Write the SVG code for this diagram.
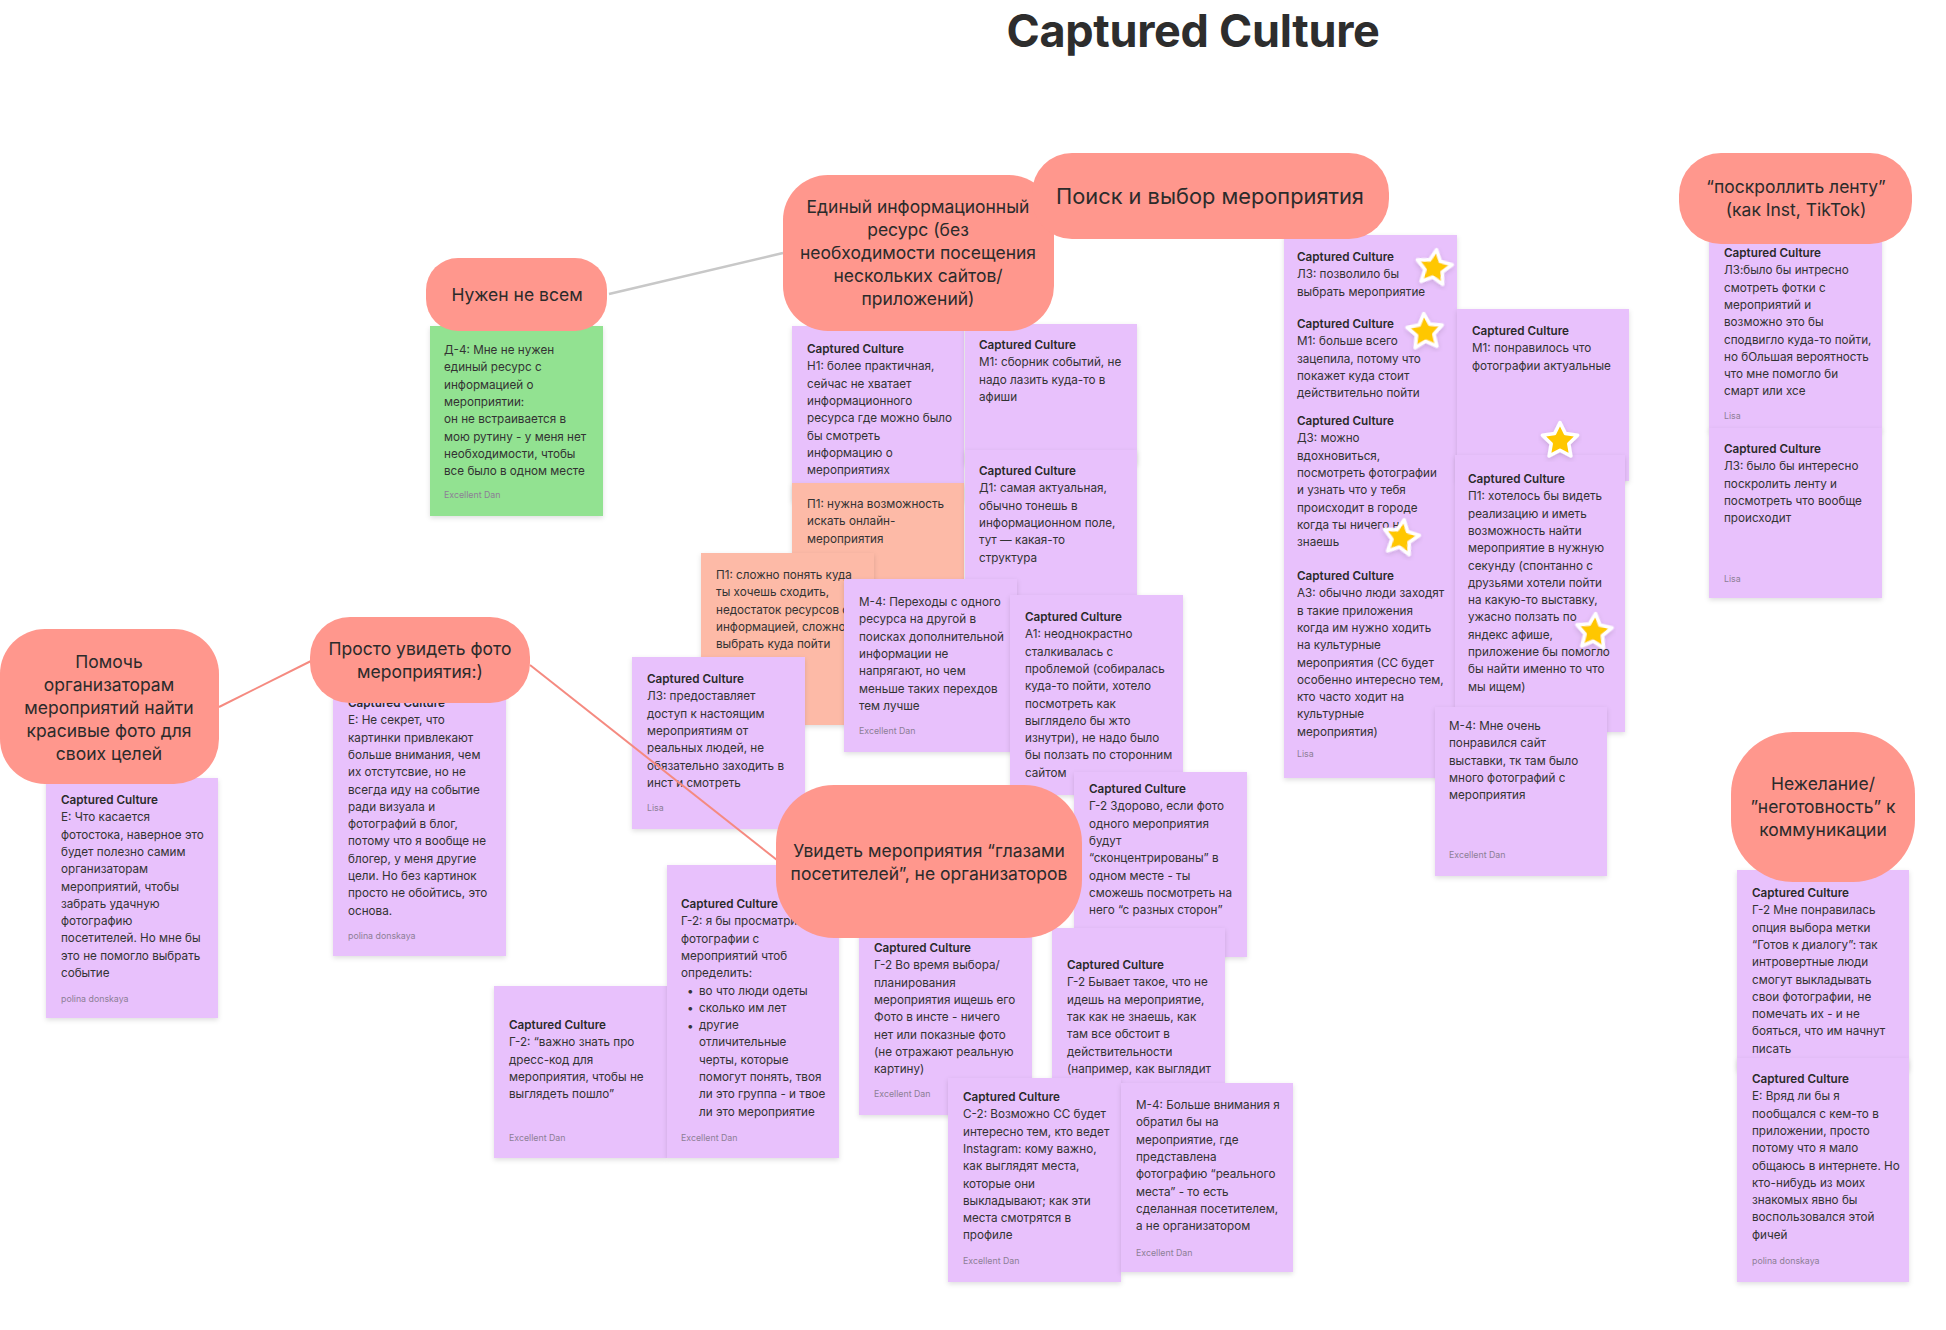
<svg xmlns="http://www.w3.org/2000/svg" width="1946" height="1330" viewBox="0 0 1946 1330">
<defs>
<filter id="sh" x="-10%" y="-10%" width="120%" height="125%"><feDropShadow dx="0" dy="2" stdDeviation="2.5" flood-color="#000" flood-opacity="0.13"/></filter>
<path id="star" d="M0,-18.5 L5.4,-7.45 L17.6,-5.7 L8.8,2.85 L10.9,15 L0,9.2 L-10.9,15 L-8.8,2.85 L-17.6,-5.7 L-5.4,-7.45 Z"/>
</defs>
<style>
.st{fill:#E8C1FC;filter:url(#sh)}
.or{fill:#FDBAA7;filter:url(#sh)}
.gr{fill:#92E291;filter:url(#sh)}
.pill{fill:#FF978D}
text{font-family:Inter,"Noto Sans","Liberation Sans",sans-serif}
.t{font-size:11.7px;fill:#333}
.h{font-weight:600;fill:#2a2a2a}
.a{font-size:8.8px;fill:#8d7f96}
.pt{font-size:17.5px;fill:#2b2b2b;text-anchor:middle}
.star{fill:#FFC700;stroke:#fff;stroke-width:3.5;stroke-linejoin:round;filter:url(#sh)}
.title{font-size:45px;font-weight:700;fill:#2d2d2d;text-anchor:middle;letter-spacing:-0.3px}
</style>
<rect x="0" y="0" width="1946" height="1330" fill="#fff"/>
<text class="title" x="1193" y="47">Captured Culture</text>

<g id="s-d4"><rect class="gr" x="430" y="326" width="173" height="190"/>
<text class="t" x="444" y="354"><tspan x="444">Д-4: Мне не нужен</tspan><tspan x="444" dy="17.3">единый ресурс с</tspan><tspan x="444" dy="17.3">информацией о</tspan><tspan x="444" dy="17.3">мероприятии:</tspan><tspan x="444" dy="17.3">он не встраивается в</tspan><tspan x="444" dy="17.3">мою рутину - у меня нет</tspan><tspan x="444" dy="17.3">необходимости, чтобы</tspan><tspan x="444" dy="17.3">все было в одном месте</tspan></text>
<text class="a" x="444" y="498">Excellent Dan</text></g>

<g id="s-h1"><rect class="st" x="792" y="326" width="172" height="175"/>
<text class="t" x="807" y="353"><tspan class="h" x="807">Captured Culture</tspan><tspan x="807" dy="17.3">Н1: более практичная,</tspan><tspan x="807" dy="17.3">сейчас не хватает</tspan><tspan x="807" dy="17.3">информационного</tspan><tspan x="807" dy="17.3">ресурса где можно было</tspan><tspan x="807" dy="17.3">бы смотреть</tspan><tspan x="807" dy="17.3">информацию о</tspan><tspan x="807" dy="17.3">мероприятиях</tspan></text></g>

<g id="s-p1a"><rect class="or" x="792" y="483" width="172" height="170"/>
<text class="t" x="807" y="508"><tspan x="807">П1: нужна возможность</tspan><tspan x="807" dy="17.3">искать онлайн-</tspan><tspan x="807" dy="17.3">мероприятия</tspan></text></g>

<g id="s-p1b"><rect class="or" x="701" y="553" width="173" height="172"/>
<text class="t" x="716" y="579"><tspan x="716">П1: сложно понять куда</tspan><tspan x="716" dy="17.3">ты хочешь сходить,</tspan><tspan x="716" dy="17.3">недостаток ресурсов с</tspan><tspan x="716" dy="17.3">информацией, сложно</tspan><tspan x="716" dy="17.3">выбрать куда пойти</tspan></text></g>

<g id="s-l3a"><rect class="st" x="632" y="657" width="173" height="172"/>
<text class="t" x="647" y="683"><tspan class="h" x="647">Captured Culture</tspan><tspan x="647" dy="17.3">Л3: предоставляет</tspan><tspan x="647" dy="17.3">доступ к настоящим</tspan><tspan x="647" dy="17.3">мероприятиям от</tspan><tspan x="647" dy="17.3">реальных людей, не</tspan><tspan x="647" dy="17.3">обязательно заходить в</tspan><tspan x="647" dy="17.3">инст и смотреть</tspan></text>
<text class="a" x="647" y="811">Lisa</text></g>

<g id="s-m1a"><rect class="st" x="965" y="324" width="172" height="140"/>
<text class="t" x="979" y="349"><tspan class="h" x="979">Captured Culture</tspan><tspan x="979" dy="17.3">М1: сборник событий, не</tspan><tspan x="979" dy="17.3">надо лазить куда-то в</tspan><tspan x="979" dy="17.3">афиши</tspan></text></g>

<g id="s-d1"><rect class="st" x="965" y="450" width="172" height="170"/>
<text class="t" x="979" y="475"><tspan class="h" x="979">Captured Culture</tspan><tspan x="979" dy="17.3">Д1: самая актуальная,</tspan><tspan x="979" dy="17.3">обычно тонешь в</tspan><tspan x="979" dy="17.3">информационном поле,</tspan><tspan x="979" dy="17.3">тут — какая-то</tspan><tspan x="979" dy="17.3">структура</tspan></text></g>

<g id="s-m4a"><rect class="st" x="844" y="579" width="173" height="173"/>
<text class="t" x="859" y="606"><tspan x="859">М-4: Переходы с одного</tspan><tspan x="859" dy="17.3">ресурса на другой в</tspan><tspan x="859" dy="17.3">поисках дополнительной</tspan><tspan x="859" dy="17.3">информации не</tspan><tspan x="859" dy="17.3">напрягают, но чем</tspan><tspan x="859" dy="17.3">меньше таких перехдов</tspan><tspan x="859" dy="17.3">тем лучше</tspan></text>
<text class="a" x="859" y="734">Excellent Dan</text></g>

<g id="s-a1"><rect class="st" x="1010" y="595" width="173" height="200"/>
<text class="t" x="1025" y="621"><tspan class="h" x="1025">Captured Culture</tspan><tspan x="1025" dy="17.3">А1: неоднокрастно</tspan><tspan x="1025" dy="17.3">сталкивалась с</tspan><tspan x="1025" dy="17.3">проблемой (собиралась</tspan><tspan x="1025" dy="17.3">куда-то пойти, хотело</tspan><tspan x="1025" dy="17.3">посмотреть как</tspan><tspan x="1025" dy="17.3">выглядело бы жто</tspan><tspan x="1025" dy="17.3">изнутри), не надо было</tspan><tspan x="1025" dy="17.3">бы ползать по сторонним</tspan><tspan x="1025" dy="17.3">сайтом</tspan></text></g>

<g id="s-g2a"><rect class="st" x="1074" y="772" width="173" height="185"/>
<text class="t" x="1089" y="793"><tspan class="h" x="1089">Captured Culture</tspan><tspan x="1089" dy="17.3">Г-2 Здорово, если фото</tspan><tspan x="1089" dy="17.3">одного мероприятия</tspan><tspan x="1089" dy="17.3">будут</tspan><tspan x="1089" dy="17.3">“сконцентрированы” в</tspan><tspan x="1089" dy="17.3">одном месте - ты</tspan><tspan x="1089" dy="17.3">сможешь посмотреть на</tspan><tspan x="1089" dy="17.3">него “с разных сторон”</tspan></text></g>

<g id="s-g2b"><rect class="st" x="494" y="986" width="173" height="172"/>
<text class="t" x="509" y="1029"><tspan class="h" x="509">Captured Culture</tspan><tspan x="509" dy="17.3">Г-2: “важно знать про</tspan><tspan x="509" dy="17.3">дресс-код для</tspan><tspan x="509" dy="17.3">мероприятия, чтобы не</tspan><tspan x="509" dy="17.3">выглядеть пошло”</tspan></text>
<text class="a" x="509" y="1141">Excellent Dan</text></g>

<g id="s-g2c"><rect class="st" x="667" y="865" width="172" height="293"/>
<text class="t" x="681" y="908"><tspan class="h" x="681">Captured Culture</tspan><tspan x="681" dy="17.3">Г-2: я бы просматривал</tspan><tspan x="681" dy="17.3">фотографии с</tspan><tspan x="681" dy="17.3">мероприятий чтоб</tspan><tspan x="681" dy="17.3">определить:</tspan><tspan x="699" dy="17.3">во что люди одеты</tspan><tspan x="699" dy="17.3">сколько им лет</tspan><tspan x="699" dy="17.3">другие</tspan><tspan x="699" dy="17.3">отличительные</tspan><tspan x="699" dy="17.3">черты, которые</tspan><tspan x="699" dy="17.3">помогут понять, твоя</tspan><tspan x="699" dy="17.3">ли это группа - и твое</tspan><tspan x="699" dy="17.3">ли это мероприятие</tspan></text>
<text class="t" x="687" y="995"><tspan x="687">•</tspan><tspan x="687" dy="17.3">•</tspan><tspan x="687" dy="17.3">•</tspan></text>
<text class="a" x="681" y="1141">Excellent Dan</text></g>

<g id="s-g2d"><rect class="st" x="859" y="925" width="173" height="190"/>
<text class="t" x="874" y="952"><tspan class="h" x="874">Captured Culture</tspan><tspan x="874" dy="17.3">Г-2 Во время выбора/</tspan><tspan x="874" dy="17.3">планирования</tspan><tspan x="874" dy="17.3">мероприятия ищешь его</tspan><tspan x="874" dy="17.3">Фото в инсте - ничего</tspan><tspan x="874" dy="17.3">нет или показные фото</tspan><tspan x="874" dy="17.3">(не отражают реальную</tspan><tspan x="874" dy="17.3">картину)</tspan></text>
<text class="a" x="874" y="1097">Excellent Dan</text></g>

<g id="s-g2e"><rect class="st" x="1052" y="928" width="173" height="220"/>
<text class="t" x="1067" y="969"><tspan class="h" x="1067">Captured Culture</tspan><tspan x="1067" dy="17.3">Г-2 Бывает такое, что не</tspan><tspan x="1067" dy="17.3">идешь на мероприятие,</tspan><tspan x="1067" dy="17.3">так как не знаешь, как</tspan><tspan x="1067" dy="17.3">там все обстоит в</tspan><tspan x="1067" dy="17.3">действительности</tspan><tspan x="1067" dy="17.3">(например, как выглядит</tspan></text></g>

<g id="s-c2"><rect class="st" x="948" y="1078" width="173" height="204"/>
<text class="t" x="963" y="1101"><tspan class="h" x="963">Captured Culture</tspan><tspan x="963" dy="17.3">С-2: Возможно СС будет</tspan><tspan x="963" dy="17.3">интересно тем, кто ведет</tspan><tspan x="963" dy="17.3">Instagram: кому важно,</tspan><tspan x="963" dy="17.3">как выглядят места,</tspan><tspan x="963" dy="17.3">которые они</tspan><tspan x="963" dy="17.3">выкладывают; как эти</tspan><tspan x="963" dy="17.3">места смотрятся в</tspan><tspan x="963" dy="17.3">профиле</tspan></text>
<text class="a" x="963" y="1264">Excellent Dan</text></g>

<g id="s-m4b"><rect class="st" x="1121" y="1083" width="172" height="189"/>
<text class="t" x="1136" y="1109"><tspan x="1136">М-4: Больше внимания я</tspan><tspan x="1136" dy="17.3">обратил бы на</tspan><tspan x="1136" dy="17.3">мероприятие, где</tspan><tspan x="1136" dy="17.3">представлена</tspan><tspan x="1136" dy="17.3">фотографию “реального</tspan><tspan x="1136" dy="17.3">места” - то есть</tspan><tspan x="1136" dy="17.3">сделанная посетителем,</tspan><tspan x="1136" dy="17.3">а не организатором</tspan></text>
<text class="a" x="1136" y="1256">Excellent Dan</text></g>

<g id="s-e1"><rect class="st" x="46" y="778" width="172" height="240"/>
<text class="t" x="61" y="804"><tspan class="h" x="61">Captured Culture</tspan><tspan x="61" dy="17.3">Е: Что касается</tspan><tspan x="61" dy="17.3">фотостока, наверное это</tspan><tspan x="61" dy="17.3">будет полезно самим</tspan><tspan x="61" dy="17.3">организаторам</tspan><tspan x="61" dy="17.3">мероприятий, чтобы</tspan><tspan x="61" dy="17.3">забрать удачную</tspan><tspan x="61" dy="17.3">фотографию</tspan><tspan x="61" dy="17.3">посетителей. Но мне бы</tspan><tspan x="61" dy="17.3">это не помогло выбрать</tspan><tspan x="61" dy="17.3">событие</tspan></text>
<text class="a" x="61" y="1002">polina donskaya</text></g>

<g id="s-e2"><rect class="st" x="333" y="695" width="173" height="261"/>
<text class="t" x="348" y="707"><tspan class="h" x="348">Captured Culture</tspan><tspan x="348" dy="17.3">Е: Не секрет, что</tspan><tspan x="348" dy="17.3">картинки привлекают</tspan><tspan x="348" dy="17.3">больше внимания, чем</tspan><tspan x="348" dy="17.3">их отстутсвие, но не</tspan><tspan x="348" dy="17.3">всегда иду на событие</tspan><tspan x="348" dy="17.3">ради визуала и</tspan><tspan x="348" dy="17.3">фотографий в блог,</tspan><tspan x="348" dy="17.3">потому что я вообще не</tspan><tspan x="348" dy="17.3">блогер, у меня другие</tspan><tspan x="348" dy="17.3">цели. Но без картинок</tspan><tspan x="348" dy="17.3">просто не обойтись, это</tspan><tspan x="348" dy="17.3">основа.</tspan></text>
<text class="a" x="348" y="939">polina donskaya</text></g>

<g id="s-stack"><rect class="st" x="1284" y="235" width="173" height="543"/>
<text class="t" x="1297" y="261"><tspan class="h" x="1297">Captured Culture</tspan><tspan x="1297" dy="17.3">Л3: позволило бы</tspan><tspan x="1297" dy="17.3">выбрать мероприятие</tspan></text>
<text class="t" x="1297" y="328"><tspan class="h" x="1297">Captured Culture</tspan><tspan x="1297" dy="17.3">М1: больше всего</tspan><tspan x="1297" dy="17.3">зацепила, потому что</tspan><tspan x="1297" dy="17.3">покажет куда стоит</tspan><tspan x="1297" dy="17.3">действительно пойти</tspan></text>
<text class="t" x="1297" y="425"><tspan class="h" x="1297">Captured Culture</tspan><tspan x="1297" dy="17.3">Д3: можно</tspan><tspan x="1297" dy="17.3">вдохновиться,</tspan><tspan x="1297" dy="17.3">посмотреть фотографии</tspan><tspan x="1297" dy="17.3">и узнать что у тебя</tspan><tspan x="1297" dy="17.3">происходит в городе</tspan><tspan x="1297" dy="17.3">когда ты ничего не</tspan><tspan x="1297" dy="17.3">знаешь</tspan></text>
<text class="t" x="1297" y="580"><tspan class="h" x="1297">Captured Culture</tspan><tspan x="1297" dy="17.3">А3: обычно люди заходят</tspan><tspan x="1297" dy="17.3">в такие приложения</tspan><tspan x="1297" dy="17.3">когда им нужно ходить</tspan><tspan x="1297" dy="17.3">на культурные</tspan><tspan x="1297" dy="17.3">мероприятия (СС будет</tspan><tspan x="1297" dy="17.3">особенно интересно тем,</tspan><tspan x="1297" dy="17.3">кто часто ходит на</tspan><tspan x="1297" dy="17.3">культурные</tspan><tspan x="1297" dy="17.3">мероприятия)</tspan></text>
<text class="a" x="1297" y="757">Lisa</text></g>

<g id="s-m1b"><rect class="st" x="1457" y="309" width="172" height="172"/>
<text class="t" x="1472" y="335"><tspan class="h" x="1472">Captured Culture</tspan><tspan x="1472" dy="17.3">М1: понравилось что</tspan><tspan x="1472" dy="17.3">фотографии актуальные</tspan></text></g>

<g id="s-p1c"><rect class="st" x="1455" y="455" width="170" height="277"/>
<text class="t" x="1468" y="483"><tspan class="h" x="1468">Captured Culture</tspan><tspan x="1468" dy="17.3">П1: хотелось бы видеть</tspan><tspan x="1468" dy="17.3">реализацию и иметь</tspan><tspan x="1468" dy="17.3">возможность найти</tspan><tspan x="1468" dy="17.3">мероприятие в нужную</tspan><tspan x="1468" dy="17.3">секунду (спонтанно с</tspan><tspan x="1468" dy="17.3">друзьями хотели пойти</tspan><tspan x="1468" dy="17.3">на какую-то выставку,</tspan><tspan x="1468" dy="17.3">ужасно ползать по</tspan><tspan x="1468" dy="17.3">яндекс афише,</tspan><tspan x="1468" dy="17.3">приложение бы помогло</tspan><tspan x="1468" dy="17.3">бы найти именно то что</tspan><tspan x="1468" dy="17.3">мы ищем)</tspan></text></g>

<g id="s-m4c"><rect class="st" x="1435" y="707" width="172" height="169"/>
<text class="t" x="1449" y="730"><tspan x="1449">М-4: Мне очень</tspan><tspan x="1449" dy="17.3">понравился сайт</tspan><tspan x="1449" dy="17.3">выставки, тк там было</tspan><tspan x="1449" dy="17.3">много фотографий с</tspan><tspan x="1449" dy="17.3">мероприятия</tspan></text>
<text class="a" x="1449" y="858">Excellent Dan</text></g>

<g id="s-l3b"><rect class="st" x="1709" y="236" width="173" height="195"/>
<text class="t" x="1724" y="257"><tspan class="h" x="1724">Captured Culture</tspan><tspan x="1724" dy="17.3">Л3:было бы интресно</tspan><tspan x="1724" dy="17.3">смотреть фотки с</tspan><tspan x="1724" dy="17.3">мероприятий и</tspan><tspan x="1724" dy="17.3">возможно это бы</tspan><tspan x="1724" dy="17.3">сподвигло куда-то пойти,</tspan><tspan x="1724" dy="17.3">но бОльшая вероятность</tspan><tspan x="1724" dy="17.3">что мне помогло би</tspan><tspan x="1724" dy="17.3">смарт или хсе</tspan></text>
<text class="a" x="1724" y="419">Lisa</text></g>

<g id="s-l3c"><rect class="st" x="1709" y="428" width="173" height="170"/>
<text class="t" x="1724" y="453"><tspan class="h" x="1724">Captured Culture</tspan><tspan x="1724" dy="17.3">Л3: было бы интересно</tspan><tspan x="1724" dy="17.3">поскролить ленту и</tspan><tspan x="1724" dy="17.3">посмотреть что вообще</tspan><tspan x="1724" dy="17.3">происходит</tspan></text>
<text class="a" x="1724" y="582">Lisa</text></g>

<g id="s-g2f"><rect class="st" x="1737" y="870" width="172" height="200"/>
<text class="t" x="1752" y="897"><tspan class="h" x="1752">Captured Culture</tspan><tspan x="1752" dy="17.3">Г-2 Мне понравилась</tspan><tspan x="1752" dy="17.3">опция выбора метки</tspan><tspan x="1752" dy="17.3">“Готов к диалогу”: так</tspan><tspan x="1752" dy="17.3">интровертные люди</tspan><tspan x="1752" dy="17.3">смогут выкладывать</tspan><tspan x="1752" dy="17.3">свои фотографии, не</tspan><tspan x="1752" dy="17.3">помечать их - и не</tspan><tspan x="1752" dy="17.3">бояться, что им начнут</tspan><tspan x="1752" dy="17.3">писать</tspan></text></g>

<g id="s-e3"><rect class="st" x="1737" y="1058" width="172" height="224"/>
<text class="t" x="1752" y="1083"><tspan class="h" x="1752">Captured Culture</tspan><tspan x="1752" dy="17.3">Е: Вряд ли бы я</tspan><tspan x="1752" dy="17.3">пообщался с кем-то в</tspan><tspan x="1752" dy="17.3">приложении, просто</tspan><tspan x="1752" dy="17.3">потому что я мало</tspan><tspan x="1752" dy="17.3">общаюсь в интернете. Но</tspan><tspan x="1752" dy="17.3">кто-нибудь из моих</tspan><tspan x="1752" dy="17.3">знакомых явно бы</tspan><tspan x="1752" dy="17.3">воспользовался этой</tspan><tspan x="1752" dy="17.3">фичей</tspan></text>
<text class="a" x="1752" y="1264">polina donskaya</text></g>

<g id="stars">
<use href="#star" class="star" transform="translate(1434,268) rotate(8)"/>
<use href="#star" class="star" transform="translate(1425,332) rotate(-4)"/>
<use href="#star" class="star" transform="translate(1560,441)"/>
<use href="#star" class="star" transform="translate(1401,538) rotate(10)"/>
<use href="#star" class="star" transform="translate(1594,632) rotate(5)"/>
</g>

<g id="connectors">
<line x1="609" y1="294" x2="783" y2="253" stroke="#c8c8c8" stroke-width="2.5"/>
<line x1="219" y1="707" x2="311" y2="661" stroke="#F58A80" stroke-width="2"/>
<line x1="530" y1="665" x2="777" y2="860" stroke="#F58A80" stroke-width="2"/>
</g>

<g id="p-nuzhen"><rect class="pill" x="426" y="258" width="181" height="73" rx="32"/>
<text class="pt" x="517" y="301">Нужен не всем</text></g>
<g id="p-edinyi"><rect class="pill" x="783" y="175" width="271" height="156" rx="45"/>
<text class="pt" x="918" y="213"><tspan x="918">Единый информационный</tspan><tspan x="918" dy="23">ресурс (без</tspan><tspan x="918" dy="23">необходимости посещения</tspan><tspan x="918" dy="23">нескольких сайтов/</tspan><tspan x="918" dy="23">приложений)</tspan></text></g>
<g id="p-poisk"><rect class="pill" x="1032" y="153" width="357" height="86" rx="40"/>
<text class="pt" x="1210" y="204" style="font-size:21.8px">Поиск и выбор мероприятия</text></g>
<g id="p-scroll"><rect class="pill" x="1679" y="153" width="233" height="91" rx="42"/>
<text class="pt" x="1796" y="193"><tspan x="1796">“поскроллить ленту”</tspan><tspan x="1796" dy="23">(как Inst, TikTok)</tspan></text></g>
<g id="p-pomoch"><rect class="pill" x="0" y="629" width="219" height="155" rx="45"/>
<text class="pt" x="109" y="668"><tspan x="109">Помочь</tspan><tspan x="109" dy="23">организаторам</tspan><tspan x="109" dy="23">мероприятий найти</tspan><tspan x="109" dy="23">красивые фото для</tspan><tspan x="109" dy="23">своих целей</tspan></text></g>
<g id="p-prosto"><rect class="pill" x="310" y="617" width="220" height="86" rx="40"/>
<text class="pt" x="420" y="655"><tspan x="420">Просто увидеть фото</tspan><tspan x="420" dy="23">мероприятия:)</tspan></text></g>
<g id="p-uvidet"><rect class="pill" x="776" y="785" width="306" height="153" rx="58"/>
<text class="pt" x="929" y="857"><tspan x="929">Увидеть мероприятия “глазами</tspan><tspan x="929" dy="22.5">посетителей”, не организаторов</tspan></text></g>
<g id="p-nezhelanie"><rect class="pill" x="1731" y="732" width="184" height="150" rx="62"/>
<text class="pt" x="1823" y="790"><tspan x="1823">Нежелание/</tspan><tspan x="1823" dy="23">”неготовность” к</tspan><tspan x="1823" dy="23">коммуникации</tspan></text></g>
</svg>
